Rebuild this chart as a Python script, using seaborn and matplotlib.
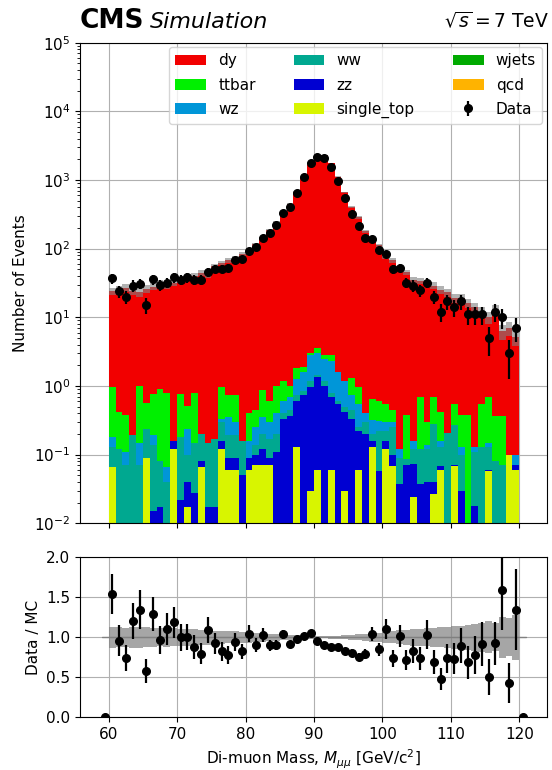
import numpy as np
import pandas as pd
import matplotlib
matplotlib.use("Agg")
import matplotlib.pyplot as plt
from matplotlib.patches import Patch
import seaborn as sns

# Binning: 1 GeV bins from 60 to 120 GeV
bin_lo, bin_hi = 60, 120

# MC predictions per bin (events)
dy = [23.0, 24.6, 26.6, 23.8, 22.0, 25.4, 27.2, 30.1, 28.2, 31.8,
      34.2, 37.5, 39.2, 43.8, 41.9, 54.8, 61.0, 67.3, 71.3, 84.8,
      87.6, 114.6, 139.1, 184.4, 239.0, 318.8, 449.0, 668.2, 1098.0, 1677.0,
      2246.0, 2287.0, 1767.0, 1108.0, 658.8, 398.7, 284.0, 177.6, 134.3, 111.4,
      75.4, 67.5, 51.9, 44.6, 34.8, 33.3, 30.7, 28.3, 24.6, 22.8,
      18.5, 18.6, 15.6, 13.9, 11.5, 9.3, 12.6, 5.9, 6.9, 5.1]
ttbar = [0.80, 0.30, 0.27, 0.0, 0.85, 0.32, 0.57, 0.81, 0.73, 0.0,
         0.58, 0.27, 0.65, 0.0, 0.0, 0.0, 0.64, 0.40, 0.45, 0.0,
         0.24, 0.20, 0.52, 0.30, 0.60, 0.60, 0.30, 0.55, 0.30, 0.20,
         0.60, 0.30, 0.50, 0.0, 0.0, 0.55, 0.40, 0.0, 0.33, 0.29,
         0.25, 0.15, 0.0, 0.295, 0.0, 0.56, 0.16, 0.40, 0.26, 0.0,
         0.27, 0.25, 0.38, 0.0, 0.41, 0.55, 0.28, 0.29, 0.0, 0.0]
wz = [0.05, 0.0, 0.04, 0.0, 0.08, 0.0, 0.05, 0.0, 0.026, 0.0,
      0.0, 0.14, 0.0, 0.0, 0.0, 0.0, 0.03, 0.16, 0.11, 0.0,
      0.07, 0.11, 0.15, 0.13, 0.20, 0.20, 0.25, 0.50, 0.75, 1.60,
      1.55, 1.30, 1.50, 1.00, 0.70, 0.30, 0.30, 0.10, 0.12, 0.09,
      0.08, 0.05, 0.03, 0.0, 0.04, 0.0, 0.02, 0.0, 0.03, 0.0,
      0.0, 0.03, 0.0, 0.02, 0.0, 0.02, 0.0, 0.0, 0.0, 0.03]
ww = [0.065, 0.12, 0.07, 0.19, 0.07, 0.15, 0.125, 0.063, 0.04, 0.0,
      0.158, 0.06, 0.122, 0.12, 0.133, 0.153, 0.14, 0.10, 0.10, 0.11,
      0.0, 0.04, 0.08, 0.08, 0.09, 0.07, 0.09, 0.15, 0.10, 0.25,
      0.10, 0.20, 0.10, 0.05, 0.08, 0.12, 0.03, 0.10, 0.04, 0.162,
      0.06, 0.15, 0.053, 0.015, 0.048, 0.083, 0.08, 0.24, 0.062, 0.21,
      0.20, 0.07, 0.0, 0.092, 0.13, 0.07, 0.08, 0.07, 0.0, 0.0]
zz = [0.0, 0.0, 0.0, 0.0, 0.0, 0.0, 0.015, 0.017, 0.0, 0.04,
      0.022, 0.023, 0.028, 0.015, 0.017, 0.017, 0.04, 0.03, 0.03, 0.05,
      0.03, 0.03, 0.05, 0.02, 0.11, 0.33, 0.36, 0.47, 0.75, 0.92,
      1.29, 1.00, 0.64, 0.55, 0.39, 0.33, 0.16, 0.20, 0.03, 0.058,
      0.04, 0.032, 0.037, 0.07, 0.048, 0.037, 0.04, 0.013, 0.008, 0.0,
      0.002, 0.03, 0.0, 0.018, 0.0, 0.002, 0.0, 0.0, 0.0, 0.01]
single_top = [0.065, 0.0, 0.0, 0.0, 0.0, 0.09, 0.0, 0.0, 0.0, 0.12,
              0.0, 0.017, 0.0, 0.065, 0.0, 0.0, 0.12, 0.06, 0.06, 0.0,
              0.06, 0.07, 0.07, 0.07, 0.0, 0.0, 0.0, 0.13, 0.0, 0.03,
              0.06, 0.0, 0.06, 0.0, 0.03, 0.0, 0.06, 0.0, 0.13, 0.0,
              0.12, 0.068, 0.0, 0.0, 0.024, 0.0, 0.0, 0.027, 0.06, 0.0,
              0.068, 0.0, 0.0, 0.0, 0.0, 0.058, 0.0, 0.0, 0.10, 0.06]
wjets = [0.0, 0.0, 0.0, 0.0, 0.0, 0.0, 0.0, 0.0, 0.0, 0.0,
         0.0, 0.0, 0.0, 0.0, 0.0, 0.0, 0.0, 0.0, 0.0, 0.0,
         0.0, 0.0, 0.0, 0.0, 0.0, 0.0, 0.0, 0.0, 0.0, 0.0,
         0.0, 0.0, 0.0, 0.0, 0.0, 0.0, 0.0, 0.0, 0.0, 0.0,
         0.0, 0.0, 0.0, 0.0, 0.0, 0.0, 0.0, 0.0, 0.0, 0.0,
         0.0, 0.0, 0.0, 0.0, 0.0, 0.0, 0.0, 0.0, 0.0, 0.0]
qcd = [0.0, 0.0, 0.0, 0.0, 0.0, 0.0, 0.0, 0.0, 0.0, 0.0,
       0.0, 0.0, 0.0, 0.0, 0.0, 0.0, 0.0, 0.0, 0.0, 0.0,
       0.0, 0.0, 0.0, 0.0, 0.0, 0.0, 0.0, 0.0, 0.0, 0.0,
       0.0, 0.0, 0.0, 0.0, 0.0, 0.0, 0.0, 0.0, 0.0, 0.0,
       0.0, 0.0, 0.0, 0.0, 0.0, 0.0, 0.0, 0.0, 0.0, 0.0,
       0.0, 0.0, 0.0, 0.0, 0.0, 0.0, 0.0, 0.0, 0.0, 0.0]

# Observed events per bin (plus empty under/overflow)
data = [37, 24, 20, 29, 31, 15, 36, 30, 32, 38,
        35, 38, 35, 35, 46, 51, 51, 53, 68, 70,
        92, 104, 144, 167, 218, 333, 410, 657, 1122, 1764,
        2160, 2084, 1558, 971, 548, 324, 214, 141, 140, 95,
        84, 50, 53, 32, 29, 25, 32, 20, 12, 17,
        14, 17, 11, 11, 11, 5, 12, 10, 3, 7]
data_under = 0
data_over = 0

# average MC event weight, used for the MC stat. band
mc_weight = 0.4

samples = ["dy", "ttbar", "wz", "ww", "zz", "single_top", "wjets", "qcd"]
values = [dy, ttbar, wz, ww, zz, single_top, wjets, qcd]
colors = {"dy": "#f20000", "ttbar": "#00f000", "wz": "#0096d8",
          "ww": "#00a890", "zz": "#0000d2", "single_top": "#d8f500",
          "wjets": "#00aa00", "qcd": "#ffb300"}

edges = np.arange(bin_lo, bin_hi + 1)
centers = edges[:-1] + 0.5

df = pd.concat([pd.DataFrame({"mass": centers, "events": v, "sample": s})
                for s, v in zip(samples, values)], ignore_index=True)

mc = np.sum(np.array(values), axis=0)
mc_err = np.sqrt(mc_weight * mc)
data = np.array(data, dtype=float)

sns.set_style("ticks", rc={"axes.edgecolor": "black", "xtick.color": "black",
                           "ytick.color": "black", "text.color": "black",
                           "axes.labelcolor": "black"})
plt.rcParams["font.size"] = 11

fig = plt.figure(figsize=(5.52, 7.70), dpi=100)
ax = fig.add_axes([0.1449, 0.3204, 0.8455, 0.6242])
rax = fig.add_axes([0.1449, 0.0684, 0.8455, 0.2078], sharex=ax)

# stacked MC
sns.histplot(data=df, x="mass", weights="events", hue="sample", hue_order=samples,
             palette=colors, multiple="stack", bins=edges.tolist(), element="step",
             linewidth=0, alpha=1, legend=False, ax=ax)

# MC stat band
ax.fill_between(edges, np.append(mc - mc_err, (mc - mc_err)[-1]),
                np.append(mc + mc_err, (mc + mc_err)[-1]),
                step="post", color="gray", alpha=0.6, lw=0, zorder=3)

data_h = ax.errorbar(centers, data, yerr=np.sqrt(data), fmt="o", color="black",
                     markersize=5.5, elinewidth=1.6, capsize=0, zorder=5)

ax.set_yscale("log")
ax.set_ylim(1e-2, 1e5)
ax.set_xlim(55.8, 124.0)
ax.set_xlabel("")
ax.set_ylabel("Number of Events", fontsize=11)
ax.grid(True, color="#b0b0b0", lw=0.8)
ax.set_axisbelow(True)
plt.setp(ax.get_xticklabels(), visible=False)
ax.tick_params(labelsize=11)

handles = [Patch(facecolor=colors[s], edgecolor="none", label=s) for s in samples]
handles.append(data_h)
labels = samples + ["Data"]
ax.legend(handles, labels, loc="upper right", ncol=3, fontsize=11, framealpha=0.8,
          columnspacing=2.5, labelspacing=0.6, borderaxespad=0.3)

# ratio panel
ratio_x = np.concatenate([[bin_lo - 0.5], centers, [bin_hi + 0.5]])
ratio = np.concatenate([[data_under], data / mc, [data_over]])
ratio_err = np.concatenate([[0], np.sqrt(data) / mc, [0]])
rel = mc_err / mc

rax.fill_between(edges, np.append(1 - rel, 1 - rel[-1]), np.append(1 + rel, 1 + rel[-1]),
                 step="post", color="gray", alpha=0.7, lw=0, zorder=2)
rax.plot([bin_lo - 1, bin_hi + 1], [1, 1], color="gray", lw=1, zorder=2)
rax.errorbar(ratio_x, ratio, yerr=ratio_err, fmt="o", color="black",
             markersize=5.5, elinewidth=1.6, capsize=0, zorder=5)
rax.set_ylim(0, 2)
rax.set_yticks([0, 0.5, 1.0, 1.5, 2.0])
rax.set_ylabel("Data / MC", fontsize=11)
rax.set_xlabel(r"Di-muon Mass, $M_{\mu\mu}$ [GeV/c$^2$]", fontsize=11)
rax.grid(True, color="#b0b0b0", lw=0.8)
rax.set_axisbelow(True)
rax.tick_params(labelsize=11)

fig.text(80 / 552, 1 - 28 / 770, "CMS", fontsize=19, fontweight="bold", va="baseline")
fig.text(150 / 552, 1 - 28 / 770, "Simulation", fontsize=16, style="italic", va="baseline")
fig.text(549 / 552, 1 - 27.5 / 770, r"$\sqrt{s} = 7$ TeV", fontsize=13.5, ha="right", va="baseline")

fig.savefig("out.png", dpi=100)
